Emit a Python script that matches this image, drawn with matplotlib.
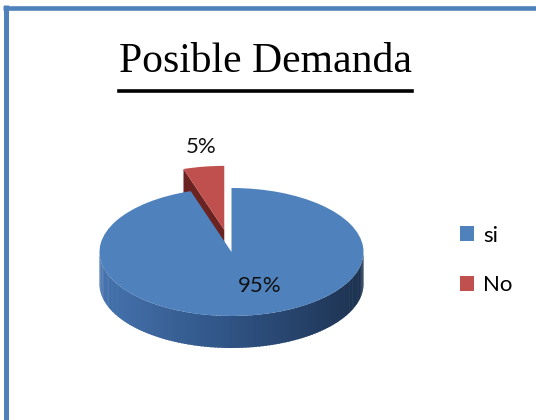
import numpy as np
import matplotlib
matplotlib.use('Agg')
import matplotlib.pyplot as plt
from matplotlib.patches import Polygon
from matplotlib.lines import Line2D
from matplotlib.colors import to_rgb

title = "Posible Demanda"
categories = ["si", "No"]
values = [95, 5]
colors = ["#4F81BD", "#C0504D"]
side_colors = ["#2E5080", "#6B2322"]
explode = [0, 0.35]

plt.rcParams['font.family'] = ['Lato', 'DejaVu Sans']

W, H = 536, 420
fig = plt.figure(figsize=(W / 100, H / 100), dpi=100)

# pie geometry in pixels (layout)
cx, cy, rx, ry, depth = 231.5, 252, 132, 64, 32

ax = fig.add_axes([0, 0, 1, 1])
wedges, _ = ax.pie(values, colors=colors, startangle=90, counterclock=False,
                   explode=explode, radius=1, center=(0, 0),
                   wedgeprops=dict(linewidth=0))
ax.set_aspect('auto')
ax.set_xlim(-cx / rx, (W - cx) / rx)
ax.set_ylim((cy - H) / ry, cy / ry)
ax.axis('off')
d = depth / ry

# gradient for rim
stops = [to_rgb("#4673AE"), to_rgb("#2F5384"), to_rgb("#1D3250")]
def grad(x):
    t = np.clip((x + 1) / 2, 0, 1)
    if t < 0.5:
        u = t / 0.5
        c0, c1 = stops[0], stops[1]
    else:
        u = (t - 0.5) / 0.5
        c0, c1 = stops[1], stops[2]
    return tuple(a + (b - a) * u for a, b in zip(c0, c1))

def front_arcs(w):
    arcs = []
    for k in (-720, -360, 0, 360, 720):
        a, b = max(w.theta1 + k, 180), min(w.theta2 + k, 360)
        if b > a:
            arcs.append((a, b))
    return arcs

# draw order
wedges[1].set_zorder(2)
wedges[0].set_zorder(4)

for i, w in enumerate(wedges):
    c = np.array(w.center)
    # visible rim
    for a, b in front_arcs(w):
        n = max(int((b - a) / 1.5), 1)
        edges = np.linspace(a, b, n + 1)
        for j in range(n):
            tt = np.radians(np.linspace(edges[j], edges[j + 1] + 0.6, 6))
            xs = c[0] + np.cos(tt)
            ys = c[1] + np.sin(tt)
            pts = np.concatenate([np.column_stack([xs, ys]),
                                  np.column_stack([xs[::-1], ys[::-1] - d])])
            ax.add_patch(Polygon(pts, closed=True, facecolor=grad(xs.mean()),
                                 edgecolor='none', zorder=3))
    # radial side face for exploded slice
    if explode[i] > 0:
        ang = np.radians(w.theta2)
        p_out = c + np.array([np.cos(ang), np.sin(ang)])
        pts = [tuple(c), tuple(p_out), (p_out[0], p_out[1] - d), (c[0], c[1] - d)]
        ax.add_patch(Polygon(pts, closed=True, facecolor=side_colors[i],
                             edgecolor='none', zorder=1))

# percentage labels
fig.text(201.5 / W, 1 - 153 / H, f"{values[1]}%", ha='center', va='baseline',
         fontsize=16, color='#111111')
fig.text(260 / W, 1 - 292 / H, f"{values[0]}%", ha='center', va='baseline',
         fontsize=16, color='#111111')

# legend
ax.legend(wedges, categories, loc='center left',
          bbox_to_anchor=(460 / W, 1 - 260.5 / H), bbox_transform=fig.transFigure,
          frameon=False, prop={'family': 'Lato', 'size': 16},
          handlelength=0.65, handleheight=0.65, handletextpad=0.4,
          labelspacing=1.34, borderpad=0, borderaxespad=0)

# title with underline
fig.text(265.5 / W, 1 - 72 / H, title, ha='center', va='baseline',
         fontsize=30, family='Liberation Serif', color='black')
fig.add_artist(Line2D([119 / W, 412 / W], [1 - 91 / H, 1 - 91 / H],
                      transform=fig.transFigure, color='black', linewidth=2.6))

# blue frame (left and top)
fig.add_artist(Line2D([3 / W, 1], [1 - 7.5 / H, 1 - 7.5 / H], transform=fig.transFigure,
                      color='#4F81BD', linewidth=3.3, solid_capstyle='butt'))
fig.add_artist(Line2D([5.5 / W, 5.5 / W], [1 - 5 / H, 0], transform=fig.transFigure,
                      color='#4F81BD', linewidth=3.6, solid_capstyle='butt'))

fig.savefig('out.png', dpi=100)
